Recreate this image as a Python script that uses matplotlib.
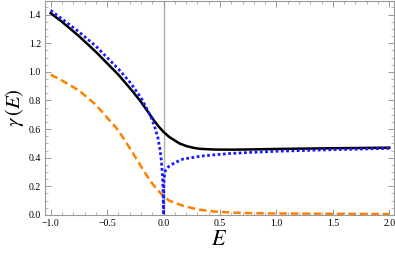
import numpy as np
import matplotlib.pyplot as plt
from matplotlib.ticker import MultipleLocator

# values
E_black = [-1.0, -0.9, -0.75, -0.6, -0.5, -0.4, -0.27, -0.2, -0.12, -0.08, -0.04, 0.0,
           0.05, 0.1, 0.14, 0.2, 0.26, 0.32, 0.45, 0.6, 0.8, 1.0, 1.5, 2.0]
g_black = [1.41, 1.35, 1.25, 1.14, 1.06, 0.98, 0.86, 0.79, 0.70, 0.655, 0.615, 0.58,
           0.545, 0.52, 0.50, 0.482, 0.47, 0.462, 0.457, 0.456, 0.458, 0.461, 0.466, 0.47]

E_blue = [-1.0, -0.9, -0.75, -0.6, -0.5, -0.4, -0.3, -0.2, -0.12, -0.08, -0.05, -0.03,
          -0.02, -0.01, -0.004, 0.0, 0.002, 0.005, 0.01, 0.02, 0.035, 0.056, 0.1, 0.17,
          0.25, 0.32, 0.45, 0.6, 0.8, 1.0, 1.5, 2.0]
g_blue = [1.43, 1.37, 1.28, 1.18, 1.10, 1.02, 0.93, 0.82, 0.70, 0.62, 0.54, 0.45,
          0.38, 0.28, 0.17, 0.0, 0.18, 0.25, 0.29, 0.315, 0.33, 0.345, 0.365, 0.39,
          0.40, 0.41, 0.42, 0.43, 0.438, 0.445, 0.456, 0.465]

E_orange = [-1.0, -0.9, -0.75, -0.6, -0.5, -0.42, -0.35, -0.27, -0.2, -0.12, -0.06, 0.0,
            0.05, 0.1, 0.17, 0.25, 0.32, 0.45, 0.6, 0.8, 1.0, 1.5, 2.0]
g_orange = [0.98, 0.94, 0.87, 0.77, 0.68, 0.61, 0.53, 0.43, 0.34, 0.24, 0.18, 0.13,
            0.10, 0.085, 0.065, 0.048, 0.036, 0.024, 0.016, 0.012, 0.01, 0.008, 0.006]

plt.rcParams['font.family'] = 'Liberation Serif'
plt.rcParams['mathtext.fontset'] = 'stix'

fig = plt.figure(figsize=(3.95, 2.58), dpi=100)
ax = fig.add_axes([0.114, 0.167, 0.883, 0.829])

ax.axvline(0, color='#b0b0b0', lw=1.0, zorder=1)

ax.plot(E_orange, g_orange, color='#ff8000', lw=1.8, ls=(0, (3.0, 1.6)), zorder=2)
ax.plot(E_black, g_black, color='black', lw=1.8, zorder=3)
ax.plot(E_blue, g_blue, color='#1a1aff', lw=2.0, ls=(0, (1.0, 0.9)), zorder=4)

ax.set_xlim(-1.05, 2.04)
ax.set_ylim(0, 1.495)

ax.xaxis.set_major_locator(MultipleLocator(0.5))
ax.xaxis.set_minor_locator(MultipleLocator(0.1))
ax.yaxis.set_major_locator(MultipleLocator(0.2))
ax.yaxis.set_minor_locator(MultipleLocator(0.05))

for s in ax.spines.values():
    s.set_color('#999999')
    s.set_linewidth(0.8)

ax.tick_params(which='both', direction='in', top=True, right=True, color='#999999',
               labelsize=7, pad=3)
ax.tick_params(which='major', length=4, width=0.7)
ax.tick_params(which='minor', length=2, width=0.5)
ax.xaxis.set_major_formatter(plt.FuncFormatter(lambda v, p: f'{v:.1f}'.replace('-', '\u2212')))
ax.yaxis.set_major_formatter(plt.FuncFormatter(lambda v, p: f'{v:.1f}'))

ax.set_xlabel('$E$', fontsize=16, labelpad=2)
ax.set_ylabel(r'$\gamma\,(E)$', fontsize=15, labelpad=2)

fig.savefig('out.png', dpi=100)
